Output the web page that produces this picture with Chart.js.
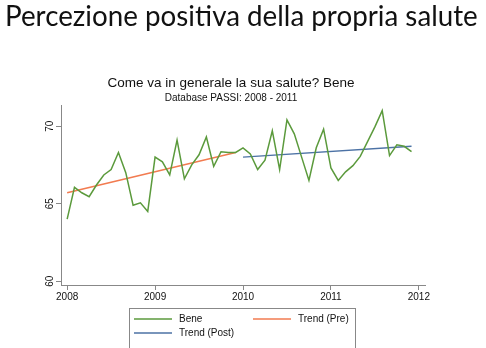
<!DOCTYPE html>
<html>
<head>
<meta charset="utf-8">
<script src="https://cdn.jsdelivr.net/npm/chart.js@4.4.0/dist/chart.umd.min.js"></script>
<style>
    html, body { margin: 0; padding: 0; background: #fff; }
    #wrap { position: relative; width: 486px; height: 348px; overflow: hidden; }
    #grafico { position: absolute; left: 0; top: 0; }
    #titolo {
        position: absolute; left: 5px; top: 0px;
        font-family: Lato, 'Open Sans', sans-serif; font-size: 29px; line-height: 29px;
        color: #111; white-space: nowrap; transform-origin: 0 0;
    }
</style>
</head>
<body>
<div id="wrap">
    <canvas id="grafico" width="486" height="348"></canvas>
    <div id="titolo">Percezione positiva della propria salute</div>
</div>
<script>
// Quota mensile "Bene" (%), gennaio-dicembre per anno
const anni = [2008, 2009, 2010, 2011];
const bene2008 = [64.0, 66.05, 65.7, 65.45, 66.2, 66.85, 67.2, 68.3, 67.0, 64.9, 65.05, 64.5];
const bene2009 = [68.0, 67.7, 66.85, 69.1, 66.6, 67.5, 68.15, 69.3, 67.4, 68.35, 68.3, 68.3];
const bene2010 = [68.6, 68.2, 67.2, 67.8, 69.7, 67.2, 70.4, 69.5, 68.0, 66.5, 68.6, 69.8];
const bene2011 = [67.3, 66.5, 67.05, 67.45, 68.05, 69.0, 69.95, 71.0, 68.1, 68.8, 68.7, 68.35];

// Rette di tendenza: estremi (anno decimale, valore)
const trendPreX = [2008, 2009 + 11 / 12];
const trendPreY = [65.7, 68.3];
const trendPostX = [2010, 2011 + 11 / 12];
const trendPostY = [68.0, 68.7];

const tickAnni = [2008, 2009, 2010, 2011, 2012];
const tickValori = [60, 65, 70];

const coloreBene = '#5b9a3c';
const colorePre = '#f27b50';
const colorePost = '#4c72a5';
const fontBase = "'Liberation Sans', Arial, sans-serif";

// Titolo grande: adatta la larghezza
const titolo = document.getElementById('titolo');
titolo.style.transform = `scaleX(${473 / titolo.offsetWidth})`;

// Serie mensile come punti {x: anno decimale, y}
const serieBene = [bene2008, bene2009, bene2010, bene2011].flatMap((valori, k) =>
    valori.map((v, m) => ({ x: anni[k] + m / 12, y: v }))
);
const puntiPre = trendPreX.map((x, i) => ({ x, y: trendPreY[i] }));
const puntiPost = trendPostX.map((x, i) => ({ x, y: trendPostY[i] }));

// Legenda incorniciata sotto il grafico
const legendaBox = {
    id: 'legendaBox',
    afterDraw(chart) {
        const ctx = chart.ctx;
        const ds = chart.data.datasets;
        ctx.save();
        ctx.strokeStyle = '#888';
        ctx.lineWidth = 1;
        ctx.strokeRect(129.5, 308.5, 226, 60);
        const voci = [
            { ds: ds[0], x: 134, y: 319 },
            { ds: ds[1], x: 253, y: 319 },
            { ds: ds[2], x: 134, y: 333 }
        ];
        ctx.font = `10px ${fontBase}`;
        ctx.textBaseline = 'middle';
        ctx.fillStyle = '#111';
        voci.forEach(v => {
            ctx.strokeStyle = v.ds.borderColor;
            ctx.lineWidth = 1.5;
            ctx.beginPath();
            ctx.moveTo(v.x, v.y);
            ctx.lineTo(v.x + 38, v.y);
            ctx.stroke();
            ctx.fillText(v.ds.label, v.x + 45, v.y);
        });
        ctx.restore();
    }
};

new Chart(document.getElementById('grafico'), {
    type: 'line',
    data: {
        datasets: [
            { label: 'Bene', data: serieBene, borderColor: coloreBene, borderWidth: 1.5 },
            { label: 'Trend (Pre)', data: puntiPre, borderColor: colorePre, borderWidth: 1.5 },
            { label: 'Trend (Post)', data: puntiPost, borderColor: colorePost, borderWidth: 1.5 }
        ]
    },
    options: {
        responsive: false,
        animation: false,
        events: [],
        elements: { point: { radius: 0 }, line: { tension: 0 } },
        layout: { padding: { top: 75, left: 37, right: 61, bottom: 43 } },
        plugins: {
            legend: { display: false },
            tooltip: { enabled: false },
            title: {
                display: true,
                text: 'Come va in generale la sua salute? Bene',
                color: '#111',
                font: { family: fontBase, size: 13.5, weight: 'normal', lineHeight: 1.2 },
                padding: { top: 0, bottom: 0 }
            },
            subtitle: {
                display: true,
                text: 'Database PASSI: 2008 - 2011',
                color: '#111',
                font: { family: fontBase, size: 10, weight: 'normal', lineHeight: 1.2 },
                padding: { top: 1, bottom: 1 }
            }
        },
        scales: {
            x: {
                type: 'linear',
                min: 2007.93,
                max: 2012.07,
                afterBuildTicks: scale => { scale.ticks = tickAnni.map(v => ({ value: v })); },
                afterFit: scale => { scale.height = 20; },
                border: { display: true, color: '#888' },
                grid: { display: true, drawOnChartArea: false, tickLength: 5, color: '#888' },
                ticks: {
                    color: '#111',
                    padding: 1,
                    maxRotation: 0,
                    font: { family: fontBase, size: 10 },
                    callback: v => String(v)
                }
            },
            y: {
                min: 59.75,
                max: 71.35,
                afterBuildTicks: scale => { scale.ticks = tickValori.map(v => ({ value: v })); },
                afterFit: scale => { scale.width = 24; },
                border: { display: true, color: '#888' },
                grid: { display: true, drawOnChartArea: false, tickLength: 5, color: '#888' },
                ticks: {
                    color: '#111',
                    padding: 0,
                    minRotation: 90,
                    maxRotation: 90,
                    crossAlign: 'center',
                    font: { family: fontBase, size: 10 }
                }
            }
        }
    },
    plugins: [legendaBox]
});
</script>
</body>
</html>
